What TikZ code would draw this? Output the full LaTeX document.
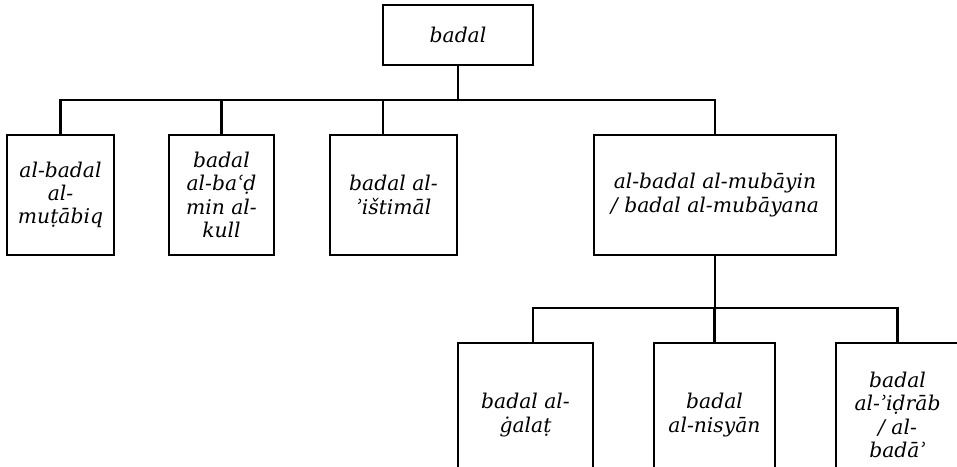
\documentclass[tikz,border=0pt]{standalone}
\usepackage{fontspec}
\setmainfont{DejaVu Serif}
\usepackage{tikz}

\tikzset{
  box/.style={draw, line width=2.4pt, align=center, inner sep=0pt,
    font=\itshape\fontsize{20.3}{23.3}\selectfont},
  link/.style={line width=2.4pt},
}

\begin{document}
\begin{tikzpicture}[x=1pt,y=-1pt]
    \clip (0,0) rectangle (957,466);
    % Raiz
    \node[box, minimum width=150pt, minimum height=60pt] (badal) at (458,35) {badal};
    % Primeiro nivel
    \node[box, minimum width=107pt, minimum height=120pt] (mutabiq) at (60.5,195) {al-badal\\al-\\muṭābiq};
    \node[box, minimum width=105pt, minimum height=120pt] (bad) at (221.5,195) {badal\\al-baʿḍ\\min al-\\kull};
    \node[box, minimum width=127pt, minimum height=120pt] (istimal) at (393.5,195) {badal al-\\ʾištimāl};
    \node[box, minimum width=242pt, minimum height=120pt] (mubayin) at (715,195) {al-badal al-mubāyin\\/ badal al-mubāyana};
    % Segundo nivel
    \node[box, minimum width=135pt, minimum height=144pt] (galat) at (525.5,415) {badal al-\\ġalaṭ};
    \node[box, minimum width=121pt, minimum height=144pt] (nisyan) at (714.5,415) {badal\\al-nisyān};
    \node[box, minimum width=123pt, minimum height=144pt] (idrab) at (897.5,415) {badal\\al-ʾiḍrāb\\/ al-\\badāʾ};
    % Ligacoes
    \coordinate (j1) at (458,100);
    \coordinate (j2) at (715,308);
    \draw[link] (badal.south) -- (j1);
    \foreach \n/\dx in {mutabiq/0, bad/0, istimal/-10.5, mubayin/0} {
        \draw[link] (j1) -| ([xshift=\dx pt]\n.north);
    }
    \draw[link] (mubayin.south) -- (j2);
    \foreach \n/\dx in {galat/7.5, nisyan/0, idrab/0} {
        \draw[link] (j2) -| ([xshift=\dx pt]\n.north);
    }
\end{tikzpicture}
\end{document}
